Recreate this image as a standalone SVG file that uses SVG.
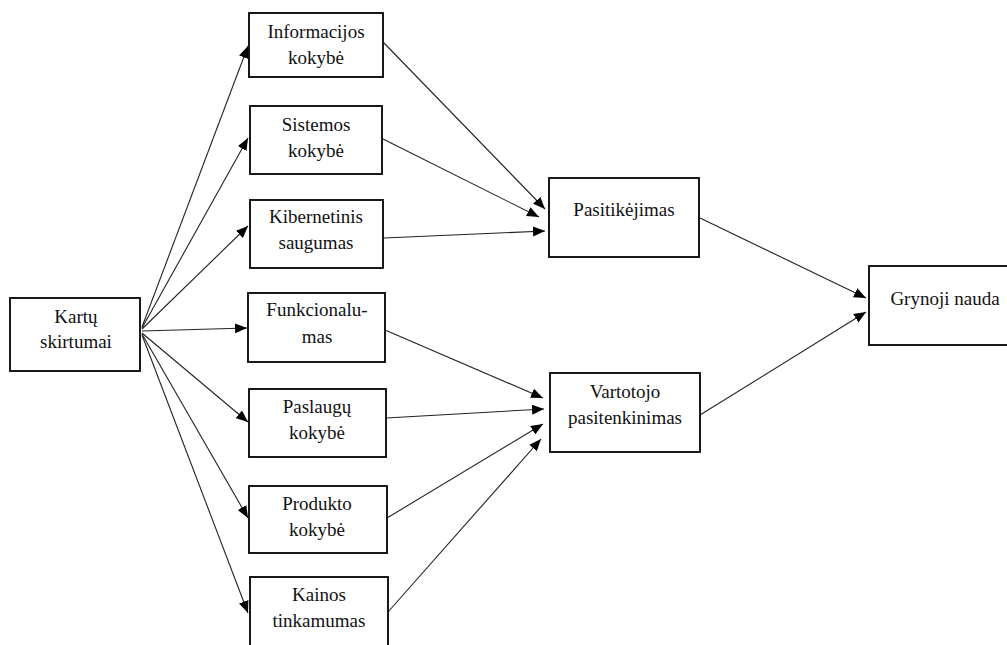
<svg xmlns="http://www.w3.org/2000/svg" width="1007" height="645" viewBox="0 0 1007 645">
<style>
.box{fill:#fff;stroke:#000;stroke-width:1.8}
text{font-family:'Liberation Serif','Times New Roman',serif;font-size:19px;fill:#111;text-anchor:middle}
.c line{stroke:#222;stroke-width:1.1;marker-end:url(#ah)}
</style>
<defs>
<marker id="ah" viewBox="0 0 12 10" refX="12" refY="5" markerWidth="12" markerHeight="10" markerUnits="userSpaceOnUse" orient="auto">
<path d="M0,0 L12,5 L0,10 z" fill="#000"/>
</marker>
</defs>
<rect width="1007" height="645" fill="#fff"/>
<g class="c" id="connectors">
<line x1="142" y1="327" x2="248" y2="46"/>
<line x1="142" y1="328" x2="248" y2="138"/>
<line x1="142" y1="329" x2="248" y2="226"/>
<line x1="142" y1="331" x2="247" y2="328"/>
<line x1="142" y1="333" x2="248" y2="422"/>
<line x1="142" y1="334" x2="248" y2="518"/>
<line x1="142" y1="335" x2="248" y2="613"/>
<line x1="384" y1="43" x2="545" y2="209"/>
<line x1="383" y1="139" x2="539" y2="217"/>
<line x1="384" y1="238" x2="545" y2="231"/>
<line x1="385" y1="330" x2="543" y2="398"/>
<line x1="386" y1="418" x2="544" y2="409"/>
<line x1="387" y1="518" x2="543" y2="424"/>
<line x1="388" y1="612" x2="541" y2="439"/>
<line x1="700" y1="218" x2="866" y2="298"/>
<line x1="700" y1="415" x2="866" y2="312"/>
</g>
<g id="kartu"><rect class="box" x="10" y="298" width="130" height="73"/><text x="76" y="323">Kartų</text><text x="76" y="348">skirtumai</text></g>
<g id="informacijos"><rect class="box" x="249" y="13" width="134" height="64"/><text x="316" y="38">Informacijos</text><text x="316" y="64">kokybė</text></g>
<g id="sistemos"><rect class="box" x="250" y="106" width="132" height="68"/><text x="316" y="131">Sistemos</text><text x="316" y="157">kokybė</text></g>
<g id="kibernetinis"><rect class="box" x="250" y="200" width="133" height="68"/><text x="316" y="223">Kibernetinis</text><text x="316" y="249">saugumas</text></g>
<g id="funkcionalumas"><rect class="box" x="248" y="293" width="137" height="69"/><text x="317" y="316">Funkcionalu-</text><text x="317" y="343">mas</text></g>
<g id="paslaugu"><rect class="box" x="249" y="389" width="137" height="68"/><text x="317" y="413">Paslaugų</text><text x="317" y="439">kokybė</text></g>
<g id="produkto"><rect class="box" x="249" y="486" width="138" height="67"/><text x="317" y="510">Produkto</text><text x="317" y="536">kokybė</text></g>
<g id="kainos"><rect class="box" x="250" y="577" width="138" height="72"/><text x="319" y="601">Kainos</text><text x="319" y="627">tinkamumas</text></g>
<g id="pasitikejimas"><rect class="box" x="549" y="178" width="150" height="79"/><text x="624" y="216">Pasitikėjimas</text></g>
<g id="vartotojo"><rect class="box" x="550" y="373" width="150" height="79"/><text x="625" y="398">Vartotojo</text><text x="625" y="424">pasitenkinimas</text></g>
<g id="grynoji"><rect class="box" x="869" y="266" width="142" height="79"/><text x="945" y="305">Grynoji nauda</text></g>
</svg>
